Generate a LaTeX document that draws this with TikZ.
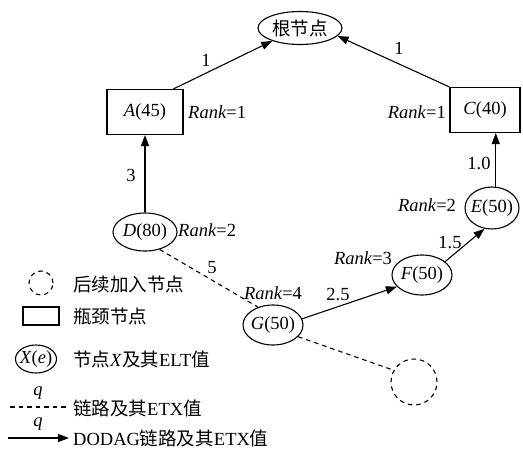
\documentclass[tikz,border=0pt]{standalone}
\usepackage{fontspec}
\setmainfont{Liberation Serif}
\newfontfamily\cjk{Noto Sans CJK SC}
\usetikzlibrary{shapes.geometric,arrows.meta}
\begin{document}
\begin{tikzpicture}[x=1pt,y=-1pt,
  every node/.style={font=\fontsize{18.5}{20}\selectfont, inner sep=0pt},
  ell/.style={draw, ellipse, line width=1.1pt},
  box/.style={draw, rectangle, line width=1.1pt},
  arr/.style={line width=1.1pt, -{Triangle[length=11pt,width=8pt]}},
  dsh/.style={line width=1.1pt, dash pattern=on 4.5pt off 4pt}]
\useasboundingbox (0,0) rectangle (523,453);
% main nodes
\node[ell, minimum width=84pt, minimum height=33pt] (root) at (300,28) {\makebox[0pt]{\cjk 根节点}};
\node[box, minimum width=76pt, minimum height=45pt] (A) at (145,112) {\textit{A}(45)};
\node[box, minimum width=70pt, minimum height=45pt] (C) at (485,110) {\textit{C}(40)};
\node[ell, minimum width=64pt, minimum height=38pt] (D) at (145,232) {\makebox[0pt]{\textit{D}(80)}};
\node[ell, minimum width=54pt, minimum height=42pt] (E) at (492,208) {\makebox[0pt]{\textit{E}(50)}};
\node[ell, minimum width=60pt, minimum height=40pt] (F) at (422,275) {\makebox[0pt]{\textit{F}(50)}};
\node[ell, minimum width=60pt, minimum height=40pt] (G) at (273,325) {\makebox[0pt]{\textit{G}(50)}};
\node[draw, circle, dsh, minimum size=46pt] (N) at (414,382) {};
% rank labels
\node[anchor=west] (rA) at (188,112) {\textit{Rank}=1};
\node[anchor=east] (rC) at (446,112) {\textit{Rank}=1};
\node[anchor=west] (rD) at (178,230) {\textit{Rank}=2};
\node (rE) at (427,205) {\textit{Rank}=2};
\node (rF) at (363,258) {\textit{Rank}=3};
\node (rG) at (273,293) {\textit{Rank}=4};
% connectors
\draw[arr] (A.39) -- (root.205);
\draw[arr] (C.north west) -- (root.-12);
\draw[arr] (D.north) -- (D.north |- A.south);
\draw[arr] (E.80) -- (E.80 |- C.south);
\draw[arr] (F.30) -- (E.250);
\draw[arr] (G.12) -- (F.205);
\draw[dsh] (D.-50) -- (G.130);
\draw[dsh] (G.-25) -- (N.150);
% edge labels
\node (wAr) at (206,60) {1};
\node (wCr) at (399,48) {1};
\node (wDA) at (131,175) {3};
\node (wEC) at (479,163) {1.0};
\node (wFE) at (450,243) {1.5};
\node (wGF) at (338,295) {2.5};
\node (wDG) at (212,268) {5};
% legend
\node[draw, circle, dsh, minimum size=24pt] (l1) at (41,283) {};
\node[anchor=west] (t1) at (73,284) {\cjk 后续加入节点};
\node[box, minimum width=36pt, minimum height=18pt] (l2) at (41,316) {};
\node[anchor=west] (t2) at (73,316) {\cjk 瓶颈节点};
\node[ell, minimum width=41pt, minimum height=28pt] (l3) at (36,359) {\makebox[0pt]{\textit{X}(\textit{e})}};
\node[anchor=west] (t3) at (73,359) {{\cjk 节点}\textit{X}{\cjk 及其}ELT{\cjk 值}};
\coordinate (d1) at (10,407);
\coordinate (d2) at (67,407);
\draw[dsh] (d1) -- (d2);
\node (q1) at (38,393) {\textit{q}};
\node[anchor=west] (t4) at (73,408) {{\cjk 链路及其}ETX{\cjk 值}};
\coordinate (a1) at (8,438);
\coordinate (a2) at (69,438);
\draw[arr] (a1) -- (a2);
\node (q2) at (38,424) {\textit{q}};
\node[anchor=west] (t5) at (73,438) {DODAG{\cjk 链路及其}ETX{\cjk 值}};
\end{tikzpicture}
\end{document}
